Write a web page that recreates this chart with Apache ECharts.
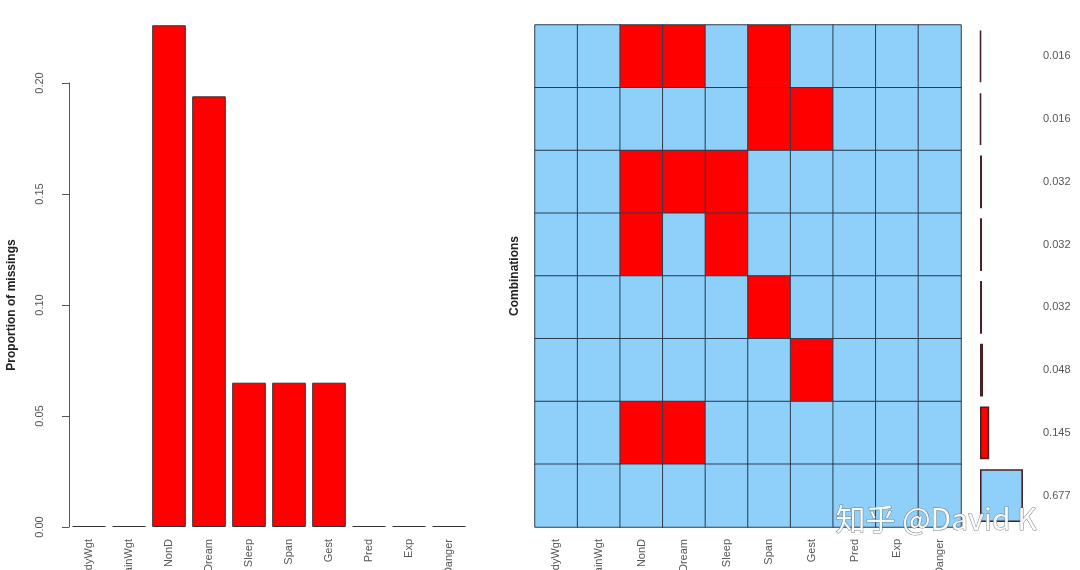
<!DOCTYPE html>
<html>
<head>
<meta charset="utf-8">
<script src="https://cdn.jsdelivr.net/npm/echarts@6/dist/echarts.min.js"></script>
<style>
  html, body { margin: 0; padding: 0; background: #fff; }
  #chart { width: 1080px; height: 570px; }
</style>
</head>
<body>
<div id="chart"></div>
<script>
// variables of the sleep data
const vars = ['BodyWgt', 'BrainWgt', 'NonD', 'Dream', 'Sleep', 'Span', 'Gest', 'Pred', 'Exp', 'Danger']
// proportion of missings per variable
const propMissing = [0, 0, 0.226, 0.194, 0.065, 0.065, 0.065, 0, 0, 0]
const yTicks = [0, 0.05, 0.10, 0.15, 0.20]

// missing patterns, top row first (1 = missing)
const patterns = [
  [0, 0, 1, 1, 0, 1, 0, 0, 0, 0],
  [0, 0, 0, 0, 0, 1, 1, 0, 0, 0],
  [0, 0, 1, 1, 1, 0, 0, 0, 0, 0],
  [0, 0, 1, 0, 1, 0, 0, 0, 0, 0],
  [0, 0, 0, 0, 0, 1, 0, 0, 0, 0],
  [0, 0, 0, 0, 0, 0, 1, 0, 0, 0],
  [0, 0, 1, 1, 0, 0, 0, 0, 0, 0],
  [0, 0, 0, 0, 0, 0, 0, 0, 0, 0]
]
// proportion of each combination
const combProps = [0.016, 0.016, 0.032, 0.032, 0.032, 0.048, 0.145, 0.677]

const RED = '#ff0000'
const BLUE = '#8ed0fa'
const labelStyle = { color: '#555', fontSize: 11, fontFamily: 'Liberation Sans, Arial' }

const rowIds = patterns.map((p, i) => 'c' + i)

const heatData = []
patterns.forEach((row, r) => {
  row.forEach((v, c) => {
    heatData.push({ value: [c, r, v], itemStyle: { color: v ? RED : BLUE } })
  })
})

const chart = echarts.init(document.getElementById('chart'))
chart.setOption({
  animation: false,
  backgroundColor: '#fff',
  grid: [
    { left: 69, top: 83, width: 400, height: 444, outerBoundsMode: 'none', containLabel: false },
    { left: 535, top: 25, width: 426, height: 502, outerBoundsMode: 'none', containLabel: false },
    { left: 980, top: 25, width: 43, height: 502, outerBoundsMode: 'none', containLabel: false }
  ],
  xAxis: [
    {
      type: 'category', gridIndex: 0, data: vars,
      axisLine: { show: false }, axisTick: { show: false },
      axisLabel: Object.assign({ rotate: 90, margin: 12, interval: 0 }, labelStyle)
    },
    {
      type: 'category', gridIndex: 1, data: vars,
      axisLine: { show: false }, axisTick: { show: false },
      axisLabel: Object.assign({ rotate: 90, margin: 12, interval: 0 }, labelStyle)
    },
    {
      type: 'value', gridIndex: 2, min: 0, max: Math.max(...combProps), show: false
    }
  ],
  yAxis: [
    {
      type: 'value', gridIndex: 0, min: yTicks[0], max: yTicks[yTicks.length - 1], interval: 0.05,
      name: 'Proportion of missings', nameLocation: 'middle', nameGap: 51,
      nameTextStyle: { color: '#222', fontSize: 12, fontWeight: 'bold', fontFamily: 'Liberation Sans, Arial' },
      axisLine: { show: true, lineStyle: { color: '#555' } },
      axisTick: { show: true, length: 7, lineStyle: { color: '#555' } },
      splitLine: { show: false },
      axisLabel: Object.assign({ rotate: 90, margin: 24, formatter: v => v.toFixed(2) }, labelStyle)
    },
    {
      type: 'category', gridIndex: 1, data: rowIds, inverse: true,
      name: 'Combinations', nameLocation: 'middle', nameGap: 14,
      nameTextStyle: { color: '#222', fontSize: 12, fontWeight: 'bold', fontFamily: 'Liberation Sans, Arial' },
      axisLine: { show: false }, axisTick: { show: false }, axisLabel: { show: false }
    },
    {
      type: 'category', gridIndex: 2, data: rowIds, inverse: true, position: 'right',
      axisLine: { show: false }, axisTick: { show: false },
      axisLabel: Object.assign({ margin: 20, formatter: (v, i) => combProps[i].toFixed(3) }, labelStyle)
    }
  ],
  series: [
    {
      type: 'bar', xAxisIndex: 0, yAxisIndex: 0, clip: false,
      barCategoryGap: '16%', barMinHeight: 1,
      data: propMissing.map(v => ({ value: v, itemStyle: { color: v > 0 ? RED : '#666' } })),
      itemStyle: { borderColor: '#333', borderWidth: 1 }
    },
    {
      type: 'heatmap', xAxisIndex: 1, yAxisIndex: 1,
      data: heatData,
      itemStyle: { borderColor: '#2d3e4e', borderWidth: 1 }
    },
    {
      type: 'bar', xAxisIndex: 2, yAxisIndex: 2,
      barCategoryGap: '16%',
      data: combProps.map((v, i) => ({
        value: v,
        itemStyle: { color: patterns[i].some(x => x) ? RED : BLUE }
      })),
      itemStyle: { borderColor: '#4a2226', borderWidth: 1.6 }
    }
  ],
  graphic: [
    {
      type: 'text', left: 835, top: 503, silent: true, z: 100,
      style: {
        text: '知乎 @David K',
        font: '30px "Noto Sans CJK SC", "Liberation Sans"',
        fill: 'rgba(255,255,255,0.92)',
        stroke: 'rgba(110,110,110,0.85)',
        lineWidth: 1
      }
    }
  ]
})
</script>
</body>
</html>
